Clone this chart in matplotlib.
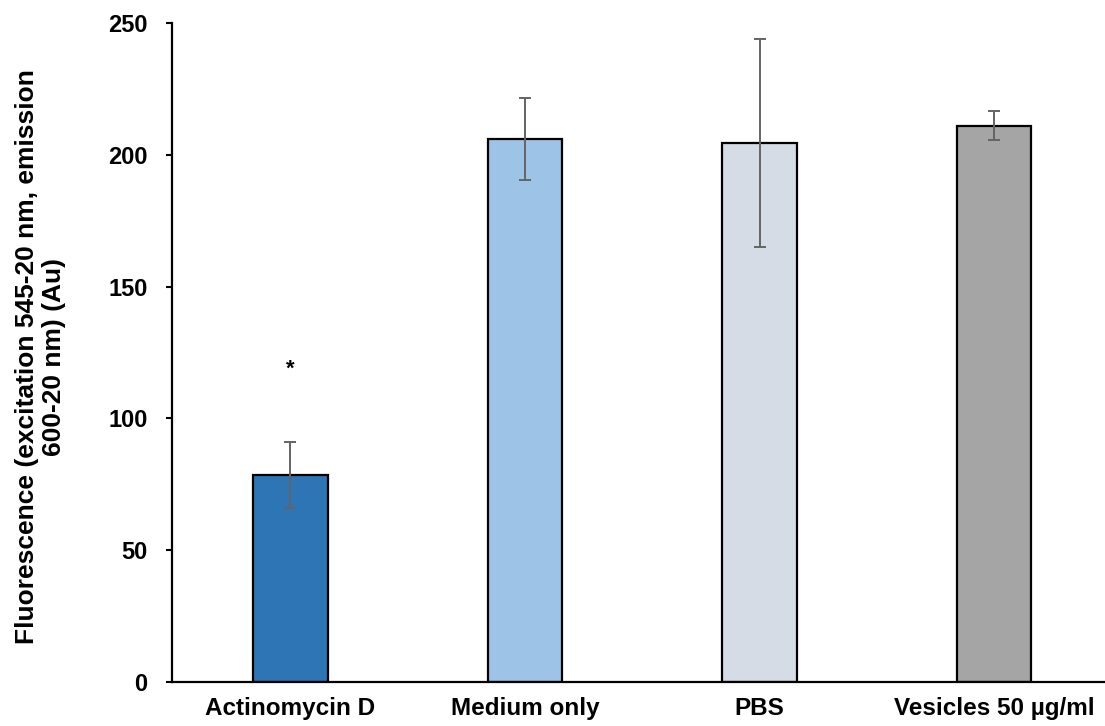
import matplotlib
matplotlib.use("Agg")
import matplotlib.pyplot as plt

categories = ["Actinomycin D", "Medium only", "PBS", "Vesicles 50 µg/ml"]
values = [78.4, 206.1, 204.5, 211.0]
errors = [12.5, 15.5, 39.6, 5.5]
colors = ["#2E75B6", "#9DC3E6", "#D6DCE5", "#A5A5A5"]
star_pos = (0, 118.6)
yticks = [0, 50, 100, 150, 200, 250]

plt.rcParams['font.family'] = ['Liberation Sans', 'DejaVu Sans']

fig = plt.figure(figsize=(11.05, 7.26), dpi=100)
ax = fig.add_axes([172/1105, 44/726, (1105-172)/1105, 659/726])

x = list(range(len(categories)))
ax.bar(x, values, width=0.318, color=colors, edgecolor="black", linewidth=1.6, zorder=2)
ax.errorbar(x, values, yerr=errors, fmt="none", ecolor="#646464", elinewidth=1.4,
            capsize=4.5, capthick=1.4, zorder=3)
ax.text(star_pos[0], star_pos[1], "*", ha="center", va="center", fontsize=16, fontweight="bold")

ax.set_xlim(-0.505, 3.473)
ax.set_ylim(0, 250)
ax.set_yticks(yticks)
ax.set_yticklabels([str(t) for t in yticks], fontsize=17, fontweight="bold")
ax.set_xticks(x)
ax.set_xticklabels(categories, fontsize=17.5, fontweight="bold")
ax.tick_params(axis="x", length=0, pad=11)
ax.tick_params(axis="y", length=4.5, width=1.5, direction="out", pad=13)
for s in ["top", "right"]:
    ax.spines[s].set_visible(False)
for s in ["left", "bottom"]:
    ax.spines[s].set_linewidth(1.6)

fig.text(40.5/1105, (726-357)/726,
         "Fluorescence (excitation 545-20 nm, emission\n600-20 nm) (Au)",
         rotation=90, ha="center", va="center", multialignment="center",
         fontsize=19, fontweight="bold", linespacing=1.15)

fig.savefig("out.png", dpi=100)
